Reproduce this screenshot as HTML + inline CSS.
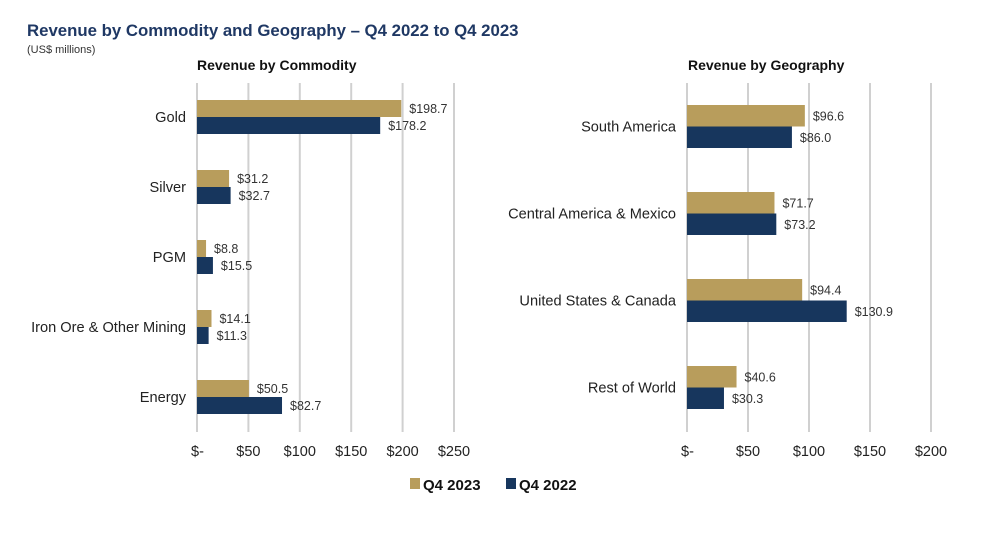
<!DOCTYPE html>
<html><head><meta charset="utf-8"><style>
body{margin:0;background:#fff;}
svg text{font-family:"Liberation Sans",sans-serif;}
</style></head><body>
<svg width="991" height="529">
<text x="27" y="36" font-size="16.8" font-weight="bold" fill="#1f3864">Revenue by Commodity and Geography – Q4 2022 to Q4 2023</text>
<text x="27" y="53" font-size="11" fill="#333">(US$ millions)</text>
<text x="197" y="70" font-size="14" font-weight="bold" fill="#111">Revenue by Commodity</text>
<text x="688" y="70" font-size="14" font-weight="bold" fill="#111">Revenue by Geography</text>
<g id="left"></g><g id="right"></g>
<rect x="410" y="478" width="10" height="11" fill="#b89d5c"/>
<text x="423" y="490" font-size="15" font-weight="bold" fill="#111">Q4 2023</text>
<rect x="506" y="478" width="10" height="11" fill="#17365d"/>
<text x="519" y="490" font-size="15" font-weight="bold" fill="#111">Q4 2022</text>
</svg>
<script>
const commodityCats=["Gold","Silver","PGM","Iron Ore & Other Mining","Energy"];
const commodity2023=[198.7,31.2,8.8,14.1,50.5];
const commodity2022=[178.2,32.7,15.5,11.3,82.7];
const commodityTicks=[0,50,100,150,200,250];
const geoCats=["South America","Central America & Mexico","United States & Canada","Rest of World"];
const geo2023=[96.6,71.7,94.4,40.6];
const geo2022=[86.0,73.2,130.9,30.3];
const geoTicks=[0,50,100,150,200];
const NS="http://www.w3.org/2000/svg";
function mk(p,t,a){const e=document.createElementNS(NS,t);for(const k in a)e.setAttribute(k,a[k]);p.appendChild(e);return e;}
function panel(g,cats,s1,s2,ticks,x0,x1,y0,step,bh,prefix){
  const max=ticks[ticks.length-1];
  const sx=v=>x0+v/max*(x1-x0);
  ticks.forEach(t=>{
    const l=mk(g,'line',{x1:sx(t),x2:sx(t),y1:83,y2:432,stroke:'#d0d0d0','stroke-width':2});
    
    
    const tx=mk(g,'text',{x:sx(t)+(t===0?-6:0),y:456,'font-size':14.5,fill:'#222','text-anchor':t===0?'start':'middle'});
    tx.textContent=t===0?'$-':'$'+t;
    
    
  });
  cats.forEach((c,i)=>{
    const cy=y0+i*step;
    const lb=mk(g,'text',{x:x0-11,y:cy+5,'font-size':14.6,fill:'#222','text-anchor':'end'});
    lb.textContent=c;
    
    
    [[s1[i],'#b89d5c',cy-bh],[s2[i],'#17365d',cy]].forEach(([v,col,y],k)=>{
      const r=mk(g,'rect',{x:x0,y:y,width:sx(v)-x0,height:bh,fill:col});
      
      
      const vt=mk(g,'text',{x:sx(v)+8,y:y+bh/2+4.5,'font-size':12.5,fill:'#333'});
      vt.textContent='$'+v.toFixed(1);
      
      
    });
  });
}
panel(document.getElementById('left'),commodityCats,commodity2023,commodity2022,commodityTicks,197,454,117,70,17,'commodity');
panel(document.getElementById('right'),geoCats,geo2023,geo2022,geoTicks,687,931,126.5,87,21.5,'geography');
</script>
</body></html>
